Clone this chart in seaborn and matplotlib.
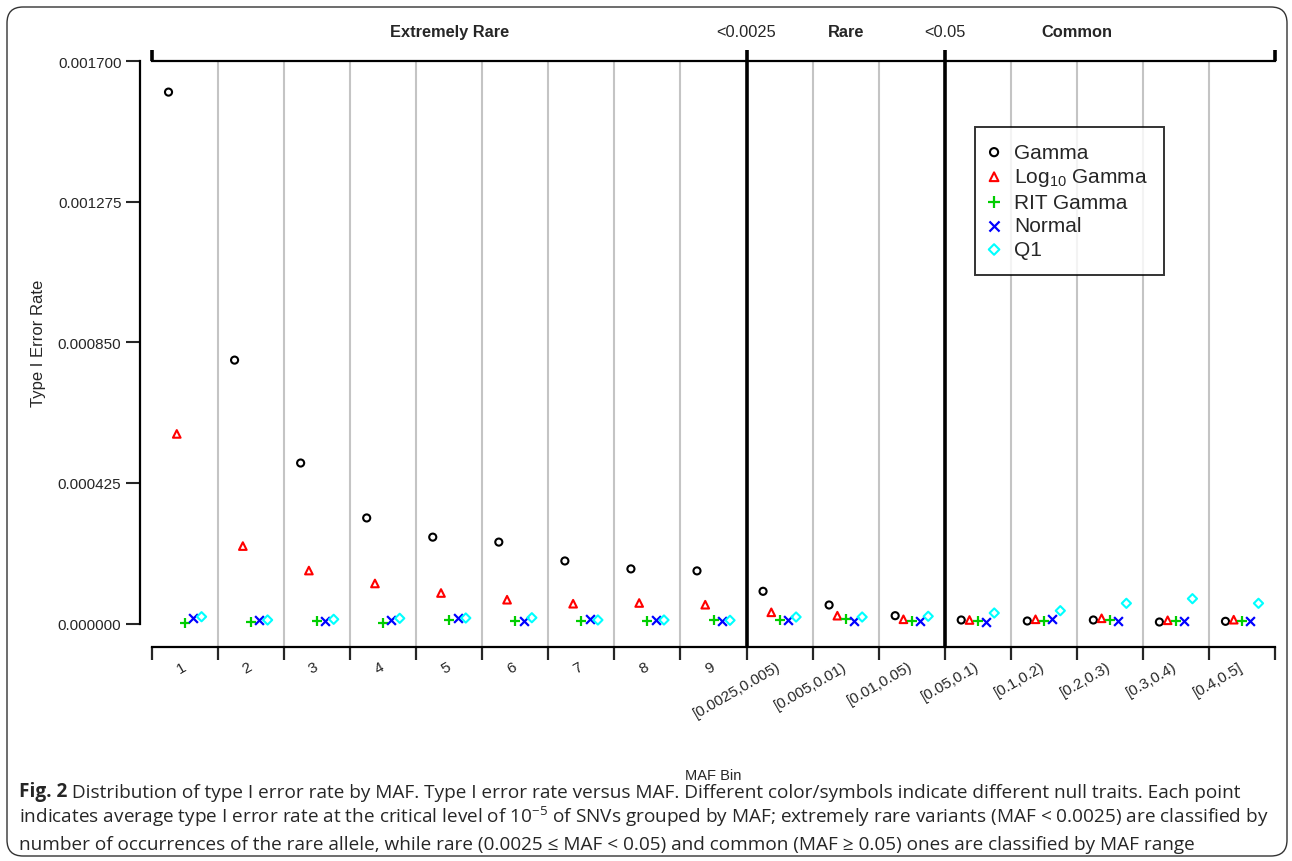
import matplotlib
matplotlib.use("Agg")
import matplotlib.pyplot as plt
from matplotlib.patches import FancyBboxPatch
import pandas as pd
import seaborn as sns

sns.set_style("white")
plt.rcParams['font.family'] = ['Liberation Sans', 'DejaVu Sans']
plt.rcParams['mathtext.fontset'] = 'custom'
plt.rcParams['mathtext.rm'] = 'Liberation Sans'
plt.rcParams['mathtext.it'] = 'Liberation Sans:italic'
plt.rcParams['mathtext.bf'] = 'Liberation Sans:bold'

# MAF bins
bins = ['1', '2', '3', '4', '5', '6', '7', '8', '9',
        '[0.0025,0.005)', '[0.005,0.01)', '[0.01,0.05)',
        '[0.05,0.1)', '[0.1,0.2)', '[0.2,0.3)', '[0.3,0.4)', '[0.4,0.5]']

# type I error rate per null trait
gamma = [0.001606, 0.000796, 0.000485, 0.000319, 0.000261, 0.000246, 0.000189, 0.000165, 0.000159,
         0.0000973, 0.0000559, 0.0000236,
         0.0000106, 0.0000076, 0.0000106, 0.0000045, 0.0000066]
log10_gamma = [0.000573, 0.000234, 0.000160, 0.000121, 0.0000922, 0.0000719, 0.0000598, 0.000062, 0.0000568,
               0.0000338, 0.0000236, 0.0000127,
               0.0000106, 0.0000127, 0.0000157, 0.0000097, 0.0000115]
rit_gamma = [0.000001, 0.0000036, 0.0000066, 0.0000024, 0.0000106, 0.0000066, 0.0000085, 0.0000085, 0.0000097,
             0.0000115, 0.0000136, 0.0000085,
             0.0000085, 0.0000085, 0.0000106, 0.0000085, 0.0000076]
normal = [0.0000157, 0.0000106, 0.0000066, 0.0000097, 0.0000166, 0.0000076, 0.0000127, 0.0000106, 0.0000076,
          0.0000115, 0.0000076, 0.0000076,
          0.0000054, 0.0000127, 0.0000076, 0.0000076, 0.0000076]
q1 = [0.0000205, 0.0000106, 0.0000127, 0.0000157, 0.0000166, 0.0000175, 0.0000106, 0.0000106, 0.0000097,
      0.0000196, 0.0000196, 0.0000218,
      0.0000317, 0.0000387, 0.000061, 0.000075, 0.000061]

series_names = ['Gamma', 'Log$_{10}$ Gamma', 'RIT Gamma', 'Normal', 'Q1']
series_vals = [gamma, log10_gamma, rit_gamma, normal, q1]
colors = ['black', '#ff0000', '#00cd00', '#0000ff', '#00ffff']
markers = ['o', '^', '+', 'x', 'D']
sizes = [26, 30, 55, 40, 22]

yticks = [0.0, 0.000425, 0.00085, 0.001275, 0.0017]

caption = [
    ('Fig. 2', ' Distribution of type I error rate by MAF. Type I error rate versus MAF. '
               'Different color/symbols indicate different null traits. Each point'),
    ('', 'indicates average type I error rate at the critical level of 10$^{\\mathregular{-5}}$ of SNVs '
         'grouped by MAF; extremely rare variants (MAF < 0.0025) are classified by'),
    ('', 'number of occurrences of the rare allele, while rare (0.0025 \u2264 MAF < 0.05) and common '
         '(MAF \u2265 0.05) ones are classified by MAF range'),
]

W, H = 1292, 862
fig = plt.figure(figsize=(W / 100, H / 100), dpi=100)

# axes box: x 152..1275 px, y 62..648 px
ax = fig.add_axes([152 / W, 1 - 648 / H, (1275 - 152) / W, (648 - 62) / H])
ymin = -0.0017 * (648 - 624.5) / (624.5 - 62)
ax.set_xlim(0, len(bins))
ax.set_ylim(ymin, 0.0017)

# gray separators between bins, black ones between MAF classes
ax.vlines([i for i in range(1, len(bins)) if i not in (9, 12)], 0, 1,
          transform=ax.get_xaxis_transform(), color='#c4c4c4', lw=1.5, zorder=1)
ax.vlines([9, 12], 0, 1.018, transform=ax.get_xaxis_transform(),
          color='black', lw=2.6, zorder=3, clip_on=False)
ax.vlines([0, len(bins)], 1, 1.018, transform=ax.get_xaxis_transform(),
          color='black', lw=2.6, zorder=3, clip_on=False)

offsets = [0.25, 0.375, 0.5, 0.625, 0.75]
for name, vals, c, m, s, off in zip(series_names, series_vals, colors, markers, sizes, offsets):
    df = pd.DataFrame({'x': [i + off for i in range(len(bins))], 'rate': vals})
    if m in ('o', '^', 'D'):
        sns.scatterplot(data=df, x='x', y='rate', ax=ax, marker=m, s=s, color=c,
                        facecolor='none', edgecolor=c, linewidth=1.5, label=name, zorder=4)
    else:
        sns.scatterplot(data=df, x='x', y='rate', ax=ax, marker=m, s=s, color=c,
                        linewidth=1.6, label=name, zorder=4)

# spines
for side in ['top', 'bottom', 'left']:
    ax.spines[side].set_visible(True)
    ax.spines[side].set_color('black')
    ax.spines[side].set_linewidth(1.6)
ax.spines['right'].set_visible(False)
ax.spines['left'].set_position(('outward', 9))
ax.spines['left'].set_bounds(0, 0.0017)

ax.set_yticks(yticks)
ax.set_yticklabels([f'{v:.6f}' for v in yticks])
ax.tick_params(axis='y', direction='out', length=10, width=1.5, labelsize=11, pad=3, left=True)

ax.set_xticks(range(len(bins) + 1))
ax.set_xticklabels([])
ax.tick_params(axis='x', which='major', direction='out', length=9, width=1.6, bottom=True)
ax.set_xticks([i + 0.5 for i in range(len(bins))], minor=True)
ax.set_xticklabels(bins, minor=True)
ax.tick_params(axis='x', which='minor', length=0, pad=13, labelsize=11)
for lab in ax.get_xticklabels(minor=True):
    lab.set_rotation(30)
    lab.set_ha('right')
    lab.set_va('center')
    lab.set_rotation_mode('anchor')

ax.set_xlabel('')
ax.set_ylabel('')

# header labels
trans = ax.get_xaxis_transform()
ytop = (648 - 33) / (648 - 62)
hsize = 11.8
ax.text(4.5, ytop, 'Extremely Rare', transform=trans, ha='center', va='center',
        fontsize=hsize, fontweight='bold')
ax.text(9, ytop, '<0.0025', transform=trans, ha='center', va='center', fontsize=hsize)
ax.text(10.5, ytop, 'Rare', transform=trans, ha='center', va='center',
        fontsize=hsize, fontweight='bold')
ax.text(12, ytop, '<0.05', transform=trans, ha='center', va='center', fontsize=hsize)
ax.text(14, ytop, 'Common', transform=trans, ha='center', va='center',
        fontsize=hsize, fontweight='bold')

leg = ax.legend(loc='upper left', bbox_to_anchor=((975 - 152) / 1123, (648 - 128) / 586),
                frameon=True, fancybox=False, edgecolor='black', fontsize=15,
                handlelength=0.33, handletextpad=0.8, borderpad=0.75, labelspacing=0.22,
                markerscale=1.15, borderaxespad=0)
leg.get_frame().set_linewidth(1.4)

fig.text(38 / W, 1 - 343 / H, 'Type I Error Rate', rotation=90, ha='center', va='center',
         fontsize=12)
fig.text(713 / W, 1 - 776 / H, 'MAF Bin', ha='center', va='center', fontsize=10.5)

# rounded frame around the whole figure
frame = FancyBboxPatch((7, H - 857), 1280, 849, boxstyle='round,pad=0,rounding_size=16',
                       transform=None, facecolor='none', edgecolor='#333333', lw=1.0)
fig.patches.append(frame)

# caption
cap_font = ['Liberation Sans Narrow', 'Open Sans', 'DejaVu Sans']
cap_size = 13.7
for k, (bold, rest) in enumerate(caption):
    ypos = 1 - (797 + 26.5 * k) / H
    if bold:
        t = fig.text(19 / W, ypos, bold, fontsize=cap_size, fontweight='bold',
                     family=cap_font, va='baseline', ha='left')
        fig.add_artist(matplotlib.text.Annotation(
            rest, xy=(1, 0), xycoords=t, fontsize=cap_size, family=cap_font,
            va='bottom', ha='left', annotation_clip=False))
    else:
        fig.text(19 / W, ypos, rest, fontsize=cap_size, family=cap_font,
                 va='baseline', ha='left')

fig.savefig('out.png', dpi=100)
